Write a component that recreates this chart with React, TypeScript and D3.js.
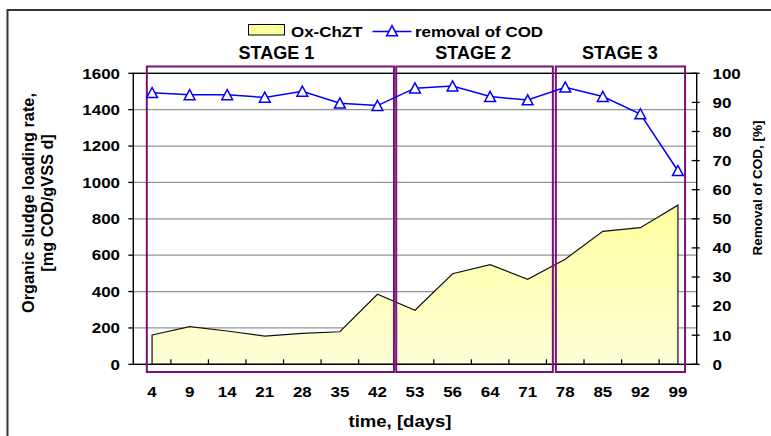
import React from "react";
import * as d3 from "d3";

const days = ["4", "9", "14", "21", "28", "35", "42", "53", "56", "64", "71", "78", "85", "92", "99"];
const loadingRate = [161, 207, 183, 155, 170, 179, 385, 297, 498, 548, 467, 578, 731, 751, 875];
const codRemoval = [93.3, 92.6, 92.6, 91.7, 93.8, 89.7, 88.9, 94.9, 95.6, 92.0, 90.8, 95.2, 92.0, 86.0, 66.5];
const leftTicks = [0, 200, 400, 600, 800, 1000, 1200, 1400, 1600];
const rightTicks = [0, 10, 20, 30, 40, 50, 60, 70, 80, 90, 100];
const stageNames = ["STAGE 1", "STAGE 2", "STAGE 3"];
// stage extents in category-index units
const stageStart = [-0.14, 6.5, 10.75];
const stageEnd = [6.44, 10.67, 14.19];

const W = 771, H = 436;
const L = 133.3, R = 696.7, T = 73.3, B = 364.3;
const FONT = "'Liberation Sans', Arial, sans-serif";
const SX = 1.13;
const stageLabelShift = [6, -1.4, -0.5];

function SText(props: { x: number; y: number; anchor?: string; size: number; sx?: number; children: any }) {
  const { x, y, anchor = "start", size, sx = SX, children } = props;
  return (
    <text transform={`translate(${x},${y}) scale(${sx},1)`} textAnchor={anchor} fontSize={size} fontWeight="bold">
      {children}
    </text>
  );
}

export default function App() {
  const x = d3.scaleBand<string>().domain(days).range([L, R]).paddingInner(0).paddingOuter(0);
  const bw = x.bandwidth();
  const cx = (d: string) => (x(d) as number) + bw / 2;
  const idx = d3.scaleLinear().domain([0, days.length - 1]).range([L + bw / 2, R - bw / 2]);
  const yL = d3.scaleLinear().domain([0, 1600]).range([B, T]);
  const yR = d3.scaleLinear().domain([0, 100]).range([B, T]);

  const area = d3.area<number>().x((_, i) => cx(days[i])).y0(B).y1((d) => yL(d));
  const line = d3.line<number>().x((_, i) => cx(days[i])).y((d) => yR(d));
  const tri = "M0,-5.3L5.4,4.8L-5.4,4.8Z";

  const boxTop = 66.5, boxBot = 372;

  return (
    <svg width={W} height={H} style={{ position: "absolute", left: 0, top: 0, background: "#fff" }} fontFamily={FONT}>
      <defs>
        <linearGradient id="yel" gradientUnits="userSpaceOnUse" x1="0" x2="0" y1={T} y2={B}>
          <stop offset="0" stopColor="#FFFF70" />
          <stop offset="1" stopColor="#FFFFD8" />
        </linearGradient>
      </defs>
      <rect x={7.5} y={10} width={900} height={600} fill="#fff" stroke="#333" strokeWidth={2} />

      {/* gridlines */}
      {leftTicks.slice(1, -1).map((t) => (
        <line key={"g" + t} x1={L} x2={R} y1={yL(t)} y2={yL(t)} stroke="#939393" strokeWidth={1.3} />
      ))}

      {/* area */}
      <path d={area(loadingRate) as string} fill="url(#yel)" stroke="#111" strokeWidth={1.2} />

      {/* plot border */}
      <rect x={L} y={T} width={R - L} height={B - T} fill="none" stroke="#000" strokeWidth={1.4} />

      {/* left ticks */}
      {leftTicks.map((t) => (
        <g key={"l" + t}>
          <line x1={L - 5} x2={L} y1={yL(t)} y2={yL(t)} stroke="#000" strokeWidth={1.3} />
          <SText x={120} y={yL(t) + 5.3} anchor="end" size={15}>{t}</SText>
        </g>
      ))}
      {/* right ticks */}
      {rightTicks.map((t) => (
        <g key={"r" + t}>
          <line x1={R - 5} x2={R + 3} y1={yR(t)} y2={yR(t)} stroke="#000" strokeWidth={1.3} />
          <SText x={712.5} y={yR(t) + 5.3} size={15}>{t}</SText>
        </g>
      ))}
      {/* x ticks at band boundaries */}
      {days.slice(1).map((d) => (
        <line key={"x" + d} x1={x(d) as number} x2={x(d) as number} y1={B} y2={B - 5} stroke="#000" strokeWidth={1.2} />
      ))}
      {days.map((d) => (
        <SText key={"xl" + d} x={cx(d)} y={396.5} anchor="middle" size={15}>{d}</SText>
      ))}

      {/* stage boxes */}
      {stageNames.map((s, i) => {
        const x0 = idx(stageStart[i]);
        const x1 = idx(stageEnd[i]);
        return (
          <g key={s}>
            <rect x={x0} y={boxTop} width={x1 - x0} height={boxBot - boxTop} fill="none" stroke="#7B107B" strokeWidth={2} />
            <SText x={(x0 + x1) / 2 + stageLabelShift[i]} y={59.3} anchor="middle" size={18} sx={1.0}>{s}</SText>
          </g>
        );
      })}

      {/* COD line */}
      <path d={line(codRemoval) as string} fill="none" stroke="#0000FF" strokeWidth={1.5} />
      {codRemoval.map((v, i) => (
        <path key={"m" + i} d={tri} transform={`translate(${cx(days[i])},${yR(v)})`} fill="#fff" stroke="#0000FF" strokeWidth={1.5} />
      ))}

      {/* legend */}
      <rect x={248.5} y={24.5} width={36} height={10.5} fill="#FFFF99" stroke="#000" strokeWidth={1} />
      <SText x={291} y={36.7} size={15}>Ox-ChZT</SText>
      <line x1={372.5} x2={411.5} y1={31.5} y2={31.5} stroke="#0000FF" strokeWidth={1.5} />
      <path d={tri} transform="translate(392,31)" fill="#fff" stroke="#0000FF" strokeWidth={1.5} />
      <SText x={415} y={36.7} size={15}>removal of COD</SText>

      {/* axis titles */}
      <text transform="translate(34,203) rotate(-90)" textAnchor="middle" fontSize={16.3} fontWeight="bold">Organic sludge loading rate,</text>
      <text transform="translate(53,203) rotate(-90)" textAnchor="middle" fontSize={16.3} fontWeight="bold">[mg COD/gVSS d]</text>
      <text transform="translate(761.5,188) rotate(-90)" textAnchor="middle" fontSize={13.5} fontWeight="bold">Removal of COD, [%]</text>
      <SText x={400} y={427.3} anchor="middle" size={16} sx={1.16}>time, [days]</SText>
    </svg>
  );
}
